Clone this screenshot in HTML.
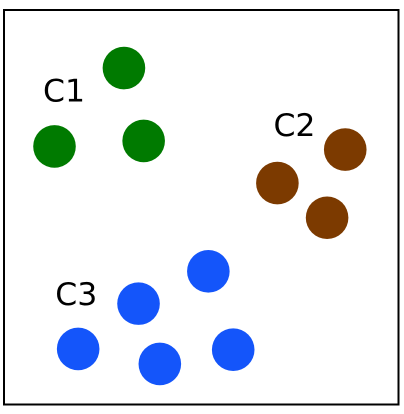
<!DOCTYPE html>
<html lang="en">
<head>
<meta charset="utf-8">
<title>Clusters scatter chart</title>
<style>
  html, body { margin: 0; padding: 0; background: #ffffff; }
  body { width: 404px; height: 414px; overflow: hidden; }
  svg { display: block; }
  text { font-family: "DejaVu Sans", "Liberation Sans", sans-serif; font-size: 31.5px; fill: #000000; }
</style>
</head>
<body>
<svg id="chart" width="404" height="414" viewBox="0 0 404 414" xmlns="http://www.w3.org/2000/svg">
  <rect x="0" y="0" width="404" height="414" fill="#ffffff"></rect>
  <g id="points"></g>
  <g id="labels"></g>
  <rect x="4" y="10" width="394.5" height="394.5" fill="none" stroke="#000000" stroke-width="2"></rect>
</svg>
<script>
const clusterNames = ['C1', 'C2', 'C3'];
const clusterColors = ['#007a00', '#7c3a00', '#1455fa'];
const c1X = [30.4, 12.8, 35.4];
const c1Y = [85.4, 65.5, 66.9];
const c2X = [86.5, 69.3, 81.9];
const c2Y = [64.7, 56.2, 47.4];
const c3X = [51.8, 34.1, 18.8, 39.5, 58.1];
const c3Y = [33.8, 25.6, 14.1, 10.3, 13.9];
const labelX = [9.9, 68.3, 13.0];
const labelY = [76.9, 68.2, 25.3];

const seriesX = [c1X, c2X, c3X];
const seriesY = [c1Y, c2Y, c3Y];

const SVG_NS = 'http://www.w3.org/2000/svg';
const plotLeft = 4, plotWidth = 394.5, plotBottom = 404.5, plotHeight = 394;
const pointRadius = 21.3;

function xScale(v) { return plotLeft + (v / 100) * plotWidth; }
function yScale(v) { return plotBottom - (v / 100) * plotHeight; }

const pointsGroup = document.getElementById('points');
const labelsGroup = document.getElementById('labels');

clusterNames.forEach(function (name, c) {
  const key = name.toLowerCase();
  seriesX[c].forEach(function (xv, i) {
    const dot = document.createElementNS(SVG_NS, 'circle');
    dot.setAttribute('cx', xScale(xv));
    dot.setAttribute('cy', yScale(seriesY[c][i]));
    dot.setAttribute('r', pointRadius);
    dot.setAttribute('fill', clusterColors[c]);
    
    
    pointsGroup.appendChild(dot);
  });
  const label = document.createElementNS(SVG_NS, 'text');
  label.setAttribute('x', xScale(labelX[c]));
  label.setAttribute('y', yScale(labelY[c]));
  label.textContent = name;
  
  
  labelsGroup.appendChild(label);
});
</script>
</body>
</html>
